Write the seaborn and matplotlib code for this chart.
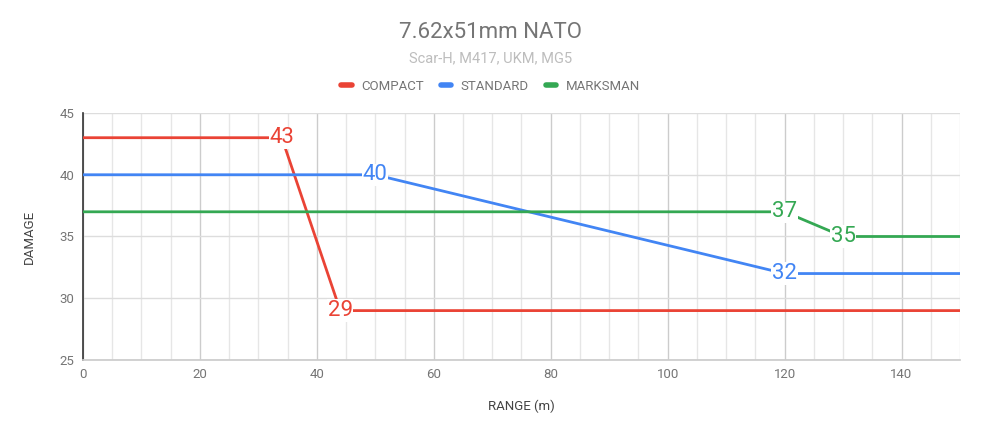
import pandas as pd
import matplotlib.pyplot as plt
import seaborn as sns
from matplotlib.ticker import MultipleLocator
from matplotlib.lines import Line2D

modes = ["COMPACT", "STANDARD", "MARKSMAN"]
compact_range = [0, 34, 44, 150]
compact_damage = [43, 43, 29, 29]
standard_range = [0, 50, 120, 150]
standard_damage = [40, 40, 32, 32]
marksman_range = [0, 120, 130, 150]
marksman_damage = [37, 37, 35, 35]

colors = {"COMPACT": "#EA4335", "STANDARD": "#4285F4", "MARKSMAN": "#34A853"}

rows = []
for mode, xs, ys in zip(modes,
                        [compact_range, standard_range, marksman_range],
                        [compact_damage, standard_damage, marksman_damage]):
    for i, (x, y) in enumerate(zip(xs, ys)):
        rows.append({"mode": mode, "range": x, "damage": y, "idx": i})
df = pd.DataFrame(rows)

sns.set_theme(style="white")
plt.rcParams["font.family"] = ["Roboto", "DejaVu Sans"]

fig = plt.figure(figsize=(9.81, 4.32), dpi=100)
ax = fig.add_axes([0.0846, 0.1667, 0.894, 0.5717])

sns.lineplot(data=df, x="range", y="damage", hue="mode", palette=colors,
             estimator=None, sort=False, linewidth=2, ax=ax, legend=False, zorder=3)

# point labels at the break points
for _, r in df[df["idx"].isin([1, 2])].iterrows():
    ax.text(r["range"], r["damage"], f"{r['damage']:g}", color=colors[r["mode"]],
            fontsize=16, ha="center", va="center", zorder=4,
            bbox=dict(facecolor="white", edgecolor="none", pad=0.5))

ax.set_xlim(0, 150)
ax.set_ylim(25, 45)
ax.xaxis.set_major_locator(MultipleLocator(20))
ax.xaxis.set_minor_locator(MultipleLocator(5))
ax.yaxis.set_major_locator(MultipleLocator(5))
ax.grid(which="major", axis="x", color="#cccccc", linewidth=1)
ax.grid(which="minor", axis="x", color="#e6e6e6", linewidth=1)
ax.grid(which="major", axis="y", color="#dddddd", linewidth=1)
ax.set_axisbelow(True)

for s in ["top", "right"]:
    ax.spines[s].set_visible(False)
ax.spines["left"].set_color("#333333")
ax.spines["left"].set_linewidth(1.2)
ax.spines["bottom"].set_color("#cccccc")
ax.tick_params(which="both", length=0, labelsize=9.5, colors="#757575", pad=6)

ax.set_xlabel("RANGE (m)", fontsize=9.5, color="#444444", labelpad=13)
ax.set_ylabel("DAMAGE", fontsize=9.5, color="#444444", labelpad=17)

fig.text(0.5, 0.925, "7.62x51mm NATO", ha="center", va="center",
         fontsize=16, color="#757575")
fig.text(0.5, 0.866, "Scar-H, M417, UKM, MG5", ha="center", va="center",
         fontsize=10.5, color="#bdbdbd")

handles = [Line2D([0], [0], color=colors[m], linewidth=4) for m in modes]
fig.legend(handles, modes, loc="center", bbox_to_anchor=(0.5, 0.8), ncol=3,
           frameon=False, handlelength=0.8, handletextpad=0.7, columnspacing=1.3,
           fontsize=9.5, labelcolor="#757575")

fig.savefig("out.png", dpi=100)
